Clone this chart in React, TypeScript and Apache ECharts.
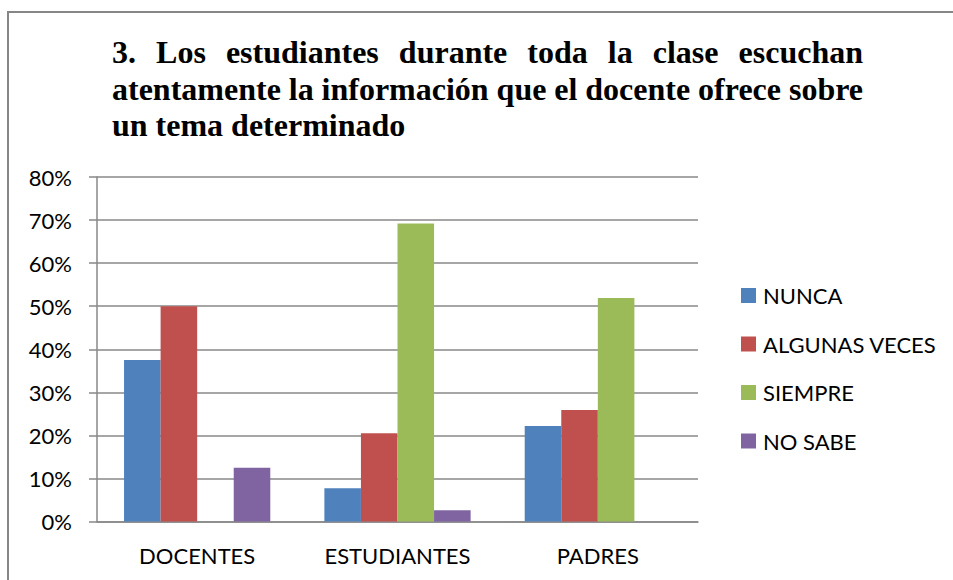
import React, { useEffect, useRef } from "react";
import * as echarts from "echarts";

const categories = ["DOCENTES", "ESTUDIANTES", "PADRES"];
const seriesNames = ["NUNCA", "ALGUNAS VECES", "SIEMPRE", "NO SABE"];
const nunca = [37.5, 7.7, 22.2];
const algunasVeces = [50.0, 20.5, 25.9];
const siempre = [0, 69.2, 51.9];
const noSabe = [12.5, 2.6, 0];
const yTicks = [0, 10, 20, 30, 40, 50, 60, 70, 80];
const titleLines = [
  "3. Los estudiantes durante toda la clase escuchan",
  "atentamente la información que el docente ofrece sobre",
  "un tema determinado",
];

const colors = ["#4F81BD", "#C0504D", "#9BBB59", "#8064A2"];
const TITLE_FONT = "bold 32px 'Liberation Serif'";
const LABEL_FONT = "Lato";

function justifyLine(text: string, x0: number, x1: number, y: number, justify: boolean) {
  const words = text.split(" ");
  const canvas = document.createElement("canvas");
  const ctx = canvas.getContext("2d")!;
  ctx.font = TITLE_FONT;
  if (!justify) {
    return [
      {
        type: "text",
        x: x0,
        y,
        style: { text, font: TITLE_FONT, fill: "#000" },
      },
    ];
  }
  const widths = words.map((w) => ctx.measureText(w).width);
  const total = widths.reduce((a, b) => a + b, 0);
  const gap = (x1 - x0 - total) / (words.length - 1);
  let x = x0;
  return words.map((w, i) => {
    const el = {
      type: "text",
      x,
      y,
      style: { text: w, font: TITLE_FONT, fill: "#000" },
    };
    x += widths[i] + gap;
    return el;
  });
}

export default function App() {
  const ref = useRef<HTMLDivElement>(null);
  useEffect(() => {
    const chart = echarts.init(ref.current!, null, { renderer: "svg" });
    const title = [
      ...justifyLine(titleLines[0], 112, 863, 36, true),
      ...justifyLine(titleLines[1], 112, 863, 72.5, true),
      ...justifyLine(titleLines[2], 112, 863, 108.5, false),
    ];
    const vals = [nunca, algunasVeces, siempre, noSabe];
    chart.setOption({
      animation: false,
      color: colors,
      graphic: [
        {
          type: "rect",
          shape: { x: 8, y: 12, width: 1000, height: 1000 },
          style: { fill: "none", stroke: "#868686", lineWidth: 2 },
          silent: true,
        },
        ...title,
      ],
      grid: { left: 97, right: 255, top: 177, bottom: 58.5 },
      legend: {
        orient: "vertical",
        left: 741,
        top: 284.5,
        padding: 0,
        icon: "rect",
        itemWidth: 15,
        itemHeight: 15,
        itemGap: 26.5,
        data: seriesNames,
        textStyle: { fontFamily: LABEL_FONT, fontSize: 22, color: "#000", lineHeight: 22, padding: [0, 0, 0, 2] },
      },
      xAxis: {
        type: "category",
        data: categories,
        axisLine: { lineStyle: { color: "#888", width: 1.5 } },
        axisTick: { length: 8, lineStyle: { color: "#888", width: 1.5 } },
        axisLabel: { fontFamily: LABEL_FONT, fontSize: 22, color: "#000", margin: 23 },
      },
      yAxis: {
        type: "value",
        min: yTicks[0],
        max: yTicks[yTicks.length - 1],
        interval: 10,
        axisLine: { show: true, lineStyle: { color: "#888", width: 1.5 } },
        axisTick: { show: true, length: 8, lineStyle: { color: "#888", width: 1.5 } },
        splitLine: { lineStyle: { color: "#888", width: 1.5 } },
        axisLabel: {
          fontFamily: LABEL_FONT,
          fontSize: 22,
          color: "#000",
          margin: 25,
          formatter: (v: number) => v + "%",
        },
      },
      series: seriesNames.map((name, i) => ({
        name,
        type: "bar",
        data: vals[i],
        barGap: "0%",
        barCategoryGap: "27%",
        itemStyle: { color: colors[i] },
      })),
    });
    return () => chart.dispose();
  }, []);
  return (
    <div
      ref={ref}
      style={{ position: "fixed", left: 0, top: 0, width: 953, height: 580, background: "#fff" }}
    />
  );
}
